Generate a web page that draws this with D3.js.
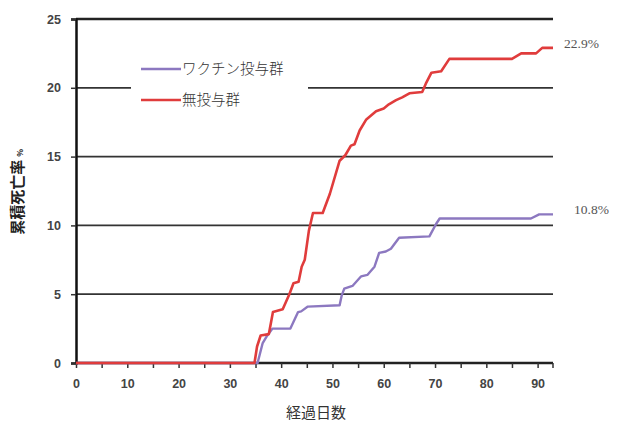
<!DOCTYPE html>
<html><head><meta charset="utf-8">
<script src="https://cdn.jsdelivr.net/npm/d3@7"></script>
<style>body{margin:0;background:#fff}svg{display:block}</style>
</head><body>
<svg id="c" width="620" height="423"></svg>
<script>
const seriesNames = ["ワクチン投与群", "無投与群"];
const seriesColors = ["#8c78c0", "#e03c3c"];
const endLabels = ["10.8%", "22.9%"];
const yTicks = [0, 5, 10, 15, 20, 25];
const xTickLabels = [0, 10, 20, 30, 40, 50, 60, 70, 80, 90];
const xMinorTicks = [0,5,10,15,20,25,30,35,40,45,50,55,60,65,70,75,80,85,90];
const vaccineDays = [0,35.4,36.4,37.3,38.3,41.8,43.3,43.9,45.2,51.4,51.8,52.3,53.9,55.6,56.8,58.2,59.1,60.4,61.4,63.0,68.9,70.2,70.9,88.7,90.3,93];
const vaccineVals = [0,0,1.45,2.0,2.5,2.5,3.7,3.75,4.1,4.2,4.9,5.4,5.6,6.3,6.4,7.0,8.0,8.1,8.3,9.1,9.2,10.1,10.5,10.5,10.8,10.8];
const controlDays = [0,34.8,35.3,36.0,37.6,38.4,40.3,41.6,42.4,43.4,44.0,44.6,45.4,46.2,48.1,49.5,51.4,52.5,53.6,54.3,55.3,56.6,58.5,60.0,61.0,62.4,63.6,65.0,67.5,68.2,69.3,71.2,72.8,85.0,86.8,89.7,90.9,93];
const controlVals = [0,0,1.2,2.0,2.1,3.7,3.9,5.0,5.8,5.9,7.0,7.5,9.6,10.9,10.9,12.3,14.7,15.1,15.8,15.9,16.9,17.7,18.3,18.5,18.8,19.1,19.3,19.6,19.7,20.3,21.1,21.2,22.1,22.1,22.5,22.5,22.9,22.9];

const svg = d3.select("#c");
const x = d3.scaleLinear().domain([0, 93]).range([76, 553]);
const y = d3.scaleLinear().domain([0, 25]).range([363, 19]);

// gridlines
svg.append("g").selectAll("line").data(yTicks.filter(d => d > 0)).join("line")
  .attr("x1", x(0)).attr("x2", x(93)).attr("y1", d => y(d)).attr("y2", d => y(d))
  .attr("stroke", d => d === 25 ? "#222" : "#333").attr("stroke-width", d => d === 25 ? 2.5 : 1.8);

// legend box (covers gridline)
svg.append("rect").attr("x", 131).attr("y", 56).attr("width", 177).attr("height", 58).attr("fill", "#fff");

// y axis
const yAxis = svg.append("g").attr("transform", `translate(${x(0)},0)`)
  .call(d3.axisLeft(y).tickValues(yTicks).tickSize(5).tickPadding(10));
yAxis.select(".domain").attr("stroke", "#111").attr("stroke-width", 2.5);
yAxis.selectAll(".tick line").attr("stroke", "#333").attr("stroke-width", 1.5);
yAxis.selectAll("text").attr("font-family", "Liberation Sans, Arial, sans-serif").attr("font-size", 12.5).attr("fill", "#444").attr("font-weight", "bold");

// x axis
const xAxis = svg.append("g").attr("transform", `translate(0,${y(0)})`)
  .call(d3.axisBottom(x).tickValues(xMinorTicks).tickSize(5).tickFormat(""));
xAxis.select(".domain").attr("stroke", "#222").attr("stroke-width", 2.5).attr("d", `M${x(0)},0H${x(93)}`);
xAxis.selectAll(".tick line").attr("stroke", "#333").attr("stroke-width", 1.5);
const xLab = svg.append("g").attr("transform", `translate(0,${y(0)})`)
  .call(d3.axisBottom(x).tickValues(xTickLabels).tickSize(0).tickPadding(16));
xLab.select(".domain").remove();
xLab.selectAll("text").attr("font-family", "Liberation Sans, Arial, sans-serif").attr("font-size", 12.5).attr("fill", "#444").attr("font-weight", "bold");
svg.append("line").attr("x1", x(93)).attr("x2", x(93)).attr("y1", y(0)).attr("y2", y(0) + 5).attr("stroke", "#333").attr("stroke-width", 1.5);

// lines
const line = d3.line().x(d => x(d[0])).y(d => y(d[1]));
const vData = vaccineDays.map((d, i) => [d, vaccineVals[i]]);
const cData = controlDays.map((d, i) => [d, controlVals[i]]);
svg.append("path").datum(vData).attr("d", line).attr("fill", "none").attr("stroke", seriesColors[0]).attr("stroke-width", 2.4).attr("stroke-linejoin", "round");
svg.append("path").datum(cData).attr("d", line).attr("fill", "none").attr("stroke", seriesColors[1]).attr("stroke-width", 2.6).attr("stroke-linejoin", "round");

// end labels
const serif = "Liberation Serif, DejaVu Serif, serif";
svg.append("text").attr("x", 564).attr("y", 48).text(endLabels[1]).attr("font-family", serif).attr("font-size", 13.5).attr("fill", "#555");
svg.append("text").attr("x", 574).attr("y", 214).text(endLabels[0]).attr("font-family", serif).attr("font-size", 13.5).attr("fill", "#555");

// legend
const lg = svg.append("g");
[0, 1].forEach(i => {
  const ly = i === 0 ? 69 : 100;
  lg.append("line").attr("x1", 141).attr("x2", 181).attr("y1", ly).attr("y2", ly).attr("stroke", seriesColors[i]).attr("stroke-width", 2.5);
  lg.append("text").attr("x", 182).attr("y", ly + 5).text(seriesNames[i]).attr("font-family", "Noto Sans CJK JP").attr("font-size", 14.5).attr("fill", "#333").attr("font-weight", 300);
});

// axis titles
svg.append("text").attr("transform", "translate(23,192) rotate(-90)").attr("text-anchor", "middle")
  .attr("font-family", "Noto Sans CJK JP").attr("font-size", 15).attr("font-weight", "bold").attr("fill", "#222")
  .html('累積死亡率<tspan font-size="8" dx="3">%</tspan>');
svg.append("text").attr("x", 316).attr("y", 418).attr("text-anchor", "middle")
  .attr("font-family", "Noto Sans CJK JP").attr("font-size", 15).attr("fill", "#333").text("経過日数");
</script>
</body></html>
